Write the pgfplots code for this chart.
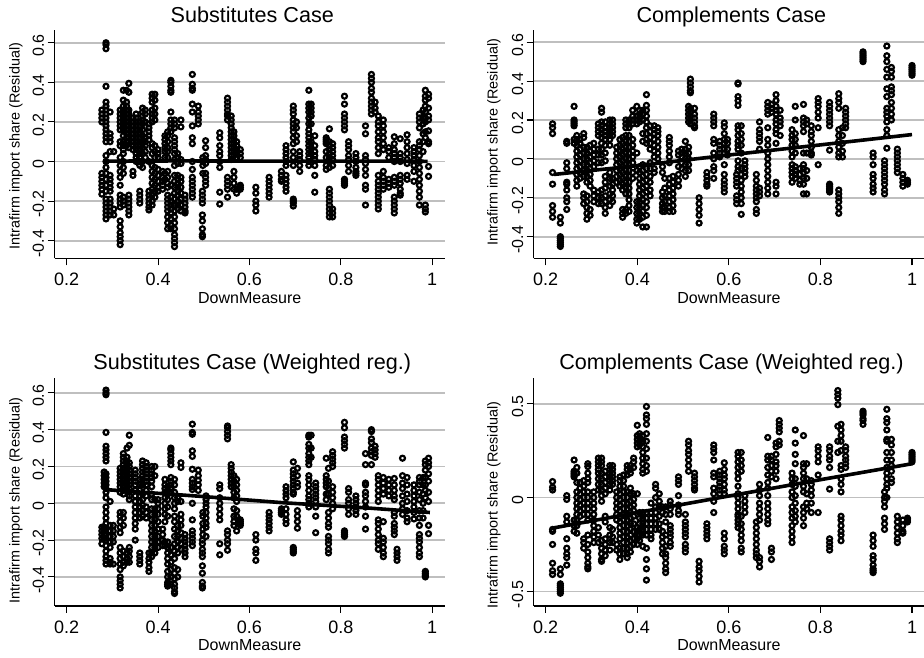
\documentclass[border=0pt]{standalone}
\usepackage{fontspec}
\setmainfont{Liberation Sans}
\usepackage{pgfplots}
\pgfplotsset{compat=1.18}
\definecolor{gridgray}{gray}{0.75}
\pgfplotsset{pan/.style={
  scale only axis, width=390.5pt, height=228.4pt,
  axis x line*=bottom, axis y line*=left,
  axis line style={line width=1.2pt,black,-},
  tick style={line width=1.1pt,black},
  major tick length=7pt, tick align=outside,
  xtick={0.2,0.4,0.6,0.8,1}, xticklabels={0.2,0.4,0.6,0.8,1},
  ymajorgrids, grid style={gridgray,line width=1.7pt},
  xticklabel style={font=\fontsize{18}{18}\selectfont,anchor=base,yshift=-20.5pt},
  yticklabel style={font=\fontsize{16}{16}\selectfont,rotate=90,anchor=south,xshift=-3pt},
  xlabel=DownMeasure, ylabel={Intrafirm import share (Residual)},
  xlabel style={font=\fontsize{16}{16}\selectfont,at={(axis description cs:0.5,-0.195)},anchor=base},
  every axis title shift=0pt,
  title style={font=\fontsize{21.6}{22}\selectfont,at={(axis description cs:0.5,1)},anchor=base,yshift=8pt,xshift=2.5pt},
},
dots/.style={only marks,mark=o,mark size=2.5pt,mark options={line width=2.2pt,black,fill=none}},
fit/.style={no marks,black,line width=3.6pt}}
\begin{document}
\begin{tikzpicture}
\path[use as bounding box] (0,0) rectangle (924pt,658pt);
\begin{axis}[pan,at={(54.5pt,399.5pt)},anchor=south west,xmin=0.1733,xmax=1.028,ymin=-0.49,ymax=0.664,
 ytick={-0.4,-0.2,0,0.2,0.4,0.6},yticklabels={-0.4,-0.2,0,0.2,0.4,0.6},title={Substitutes Case},
 ylabel style={font=\fontsize{14.4}{15}\selectfont,at={(axis description cs:-0.0986,0.492)},anchor=center,rotate=0}]
\addplot[dots] coordinates {
(.277,.26)(.277,.24)(.277,.22)(.277,.2)(.277,-.06)(.277,-.08)(.277,-.1)(.277,-.12)(.277,-.14)(.277,-.165)
(.286,.6)(.286,.59)(.286,.57)(.286,.38)(.286,.3)(.286,.28)(.286,.26)(.286,.24)(.286,.22)(.286,.2)(.286,.18)(.286,.16)(.286,.14)(.286,.12)(.286,.1)(.286,.03)(.286,0)(.286,-.03)(.286,-.06)(.286,-.09)(.286,-.12)(.286,-.15)(.286,-.19)(.286,-.21)(.286,-.23)(.286,-.25)(.286,-.27)(.286,-.29)
(.295,.25)(.295,.14)(.295,.12)(.295,.1)(.295,.05)(.295,-.07)(.295,-.09)(.295,-.11)(.295,-.13)(.295,-.15)(.295,-.19)(.295,-.21)(.295,-.23)(.295,-.25)(.295,-.27)(.303,.05)(.303,-.24)(.303,-.27)
(.317,.26)(.317,.24)(.317,.22)(.317,.2)(.317,.18)(.317,.16)(.317,.1)(.317,.08)(.317,.02)(.317,-.02)(.317,-.05)(.317,-.08)(.317,-.12)(.317,-.17)(.317,-.19)(.317,-.21)(.317,-.23)(.317,-.3)(.317,-.33)(.317,-.36)(.317,-.38)(.317,-.4)(.317,-.42)
(.324,.36)(.324,.31)(.324,.28)(.324,.26)(.324,.24)(.324,.22)(.324,.2)(.324,.18)(.324,.16)(.324,.13)(.324,.1)(.324,.08)(.324,.06)(.324,.04)(.324,0)(.324,-.03)(.324,-.06)(.324,-.18)(.324,-.2)(.324,-.22)
(.331,.36)(.331,.3)(.331,.28)(.331,.26)(.331,.24)(.331,.22)(.331,.2)(.331,.18)(.331,.16)(.331,.14)(.331,.12)(.331,.1)(.331,.08)
(.336,.395)(.336,.35)(.336,.26)(.336,.24)(.336,.22)(.336,.2)(.336,.18)(.336,.16)(.336,.14)(.336,.12)(.336,.1)(.336,.07)(.336,-.17)(.336,-.19)(.336,-.21)(.336,-.23)(.336,-.25)(.336,-.27)
(.345,.22)(.345,.2)(.345,.18)(.345,.16)(.345,.14)(.345,.12)(.345,.1)(.345,.08)(.345,.06)(.345,-.05)(.345,-.07)
(.352,.24)(.352,.22)(.352,.2)(.352,.18)(.352,.16)(.352,.14)(.352,.12)(.352,.1)(.352,.08)(.352,.06)(.352,.04)(.352,.02)(.352,0)
(.36,.2)(.36,.18)(.36,.16)(.36,.14)(.36,.12)(.36,.1)(.36,.08)(.36,.06)(.36,.04)(.36,.02)(.36,0)(.36,-.02)(.36,-.15)(.36,-.17)(.36,-.19)(.36,-.21)
(.366,.27)(.366,.25)(.366,.23)(.366,.21)(.366,.19)(.366,.16)(.366,.13)(.366,.1)(.366,.07)(.366,.04)(.366,0)(.366,-.03)
(.372,.26)(.372,.24)(.372,.2)(.372,.12)(.372,.1)(.372,.08)(.372,.05)(.372,.02)
(.38,.19)(.38,.17)(.38,.15)(.38,.13)(.38,.11)(.38,0)(.38,-.15)(.38,-.17)(.38,-.19)(.38,-.21)(.38,-.23)(.38,-.245)
(.387,.34)(.387,.32)(.387,.3)(.387,.26)(.387,.24)(.387,.22)(.387,.2)(.387,.09)(.387,.07)(.387,.04)(.387,-.02)(.387,-.05)(.387,-.08)(.387,-.11)(.387,-.14)(.387,-.17)(.387,-.2)(.387,-.22)
(.393,.34)(.393,.31)(.393,.27)(.393,.24)(.393,.21)(.393,.08)(.393,.05)(.393,.02)(.393,-.03)(.393,-.06)(.393,-.09)(.393,-.12)(.393,-.15)(.393,-.18)
(.4,.06)(.4,.04)(.4,.02)(.4,-.04)(.4,-.07)(.4,-.1)(.4,-.13)(.4,-.15)(.41,-.05)(.41,-.08)(.41,-.1)(.41,-.12)(.41,-.14)
(.415,.13)(.415,.11)(.415,.09)(.415,.07)(.415,.05)(.415,.02)(.415,-.06)(.415,-.09)
(.421,.15)(.421,.13)(.421,.1)(.421,.07)(.421,.05)(.421,.02)(.421,-.05)(.421,-.08)(.421,-.11)(.421,-.13)(.421,-.17)(.421,-.19)(.421,-.21)(.421,-.23)(.421,-.25)(.421,-.28)(.421,-.31)(.421,-.34)
(.428,.41)(.428,.4)(.428,.38)(.428,.36)(.428,.35)(.428,.25)(.428,.21)(.428,.19)(.428,.17)(.428,.15)(.428,-.12)(.428,-.18)(.428,-.2)(.428,-.22)(.428,-.24)(.428,-.26)(.428,-.29)(.428,-.32)(.428,-.34)
(.436,.21)(.436,.19)(.436,.17)(.436,.12)(.436,.1)(.436,.08)(.436,.06)(.436,.04)(.436,.01)(.436,-.02)(.436,-.07)(.436,-.1)(.436,-.13)(.436,-.16)(.436,-.19)(.436,-.22)(.436,-.25)(.436,-.28)(.436,-.31)(.436,-.34)(.436,-.37)(.436,-.39)(.436,-.41)(.436,-.43)
(.443,.04)(.443,.02)(.443,-.01)(.443,-.07)(.443,-.09)(.443,-.11)(.443,-.13)(.443,-.15)(.443,-.17)(.443,-.2)(.443,-.22)(.443,-.24)
(.45,.21)(.45,.175)(.45,.01)(.45,-.01)(.45,-.08)(.45,-.1)(.45,-.13)(.45,-.16)(.45,-.19)(.45,-.22)(.45,-.25)
(.459,-.17)(.459,-.19)(.459,-.21)(.459,-.23)(.459,-.25)(.459,-.26)
(.475,.44)(.475,.39)(.475,.37)(.475,.36)(.475,.29)(.475,.25)(.475,.18)(.475,.12)(.475,.09)(.475,0)(.475,-.04)(.475,-.08)(.475,-.1)(.475,-.12)(.475,-.14)(.475,-.16)(.475,-.18)
(.488,.28)(.488,.25)(.488,.23)(.488,.21)(.488,.19)
(.497,-.15)(.497,-.17)(.497,-.19)(.497,-.21)(.497,-.27)(.497,-.3)(.497,-.34)(.497,-.37)(.497,-.38)
(.498,.02)(.498,0)(.498,-.02)(.498,-.06)(.504,.105)(.504,.07)(.504,.03)(.504,.01)(.504,-.01)(.504,-.06)(.504,-.08)(.504,-.1)(.504,-.12)
(.535,.145)(.535,.12)(.535,.08)(.535,.05)(.535,.03)(.535,0)(.535,-.03)(.535,-.155)(.535,-.215)
(.552,.32)(.552,.3)(.552,.28)(.552,.26)(.552,.24)(.552,.23)(.552,.21)(.552,-.08)(.552,-.1)(.552,-.12)(.552,-.14)(.552,-.18)
(.56,.23)(.56,.21)(.56,.19)(.56,.17)(.56,.15)(.56,.13)(.56,.11)(.56,.09)(.56,.07)(.56,.05)(.56,.03)(.56,.01)
(.566,.15)(.566,.13)(.566,.11)(.566,.09)(.566,.07)(.566,.05)(.566,.03)(.566,-.05)(.566,-.08)(.566,-.11)(.566,-.14)
(.572,.1)(.572,.08)(.572,.06)(.572,.04)(.572,.02)(.572,-.14)(.572,-.16)(.58,.06)(.58,.04)(.58,.02)(.58,-.12)(.58,-.13)(.58,-.14)
(.614,-.13)(.614,-.16)(.614,-.2)(.614,-.22)(.614,-.25)(.643,-.08)(.643,-.1)(.643,-.12)(.643,-.14)(.643,-.16)(.643,-.18)
(.67,-.05)(.67,-.07)(.67,-.09)(.67,-.1)(.68,.08)(.68,.06)(.68,.04)(.68,.02)(.68,0)(.68,-.02)(.68,-.07)(.68,-.09)(.68,-.11)(.68,-.13)(.68,-.15)
(.696,.28)(.696,.26)(.696,.24)(.696,.21)(.696,.19)(.696,.17)(.696,.15)(.696,.12)(.696,.09)(.696,.05)(.696,.02)(.696,-.02)(.696,-.19)(.696,-.2)(.696,-.21)(.696,-.225)
(.703,.2)(.703,.17)(.703,.13)(.703,.1)(.71,.05)(.71,.03)(.71,.01)(.71,-.02)(.71,-.05)
(.73,.36)(.73,.29)(.73,.27)(.73,.25)(.73,.22)(.73,.19)(.73,.16)(.73,.14)(.73,.12)(.73,.1)(.73,.08)(.73,.06)(.73,.04)(.73,.02)(.73,0)(.73,-.02)
(.735,.29)(.735,.27)(.735,.25)(.735,.23)(.735,.19)(.735,.1)(.735,.07)(.735,.04)
(.743,.13)(.743,.08)(.743,.05)(.743,.03)(.743,.01)(.743,-.02)(.743,-.07)(.743,-.155)
(.768,.12)(.768,.11)(.768,.1)(.768,.09)(.768,.05)(.768,.02)(.768,-.02)(.768,-.04)
(.775,.165)(.775,.1)(.775,.08)(.775,.06)(.775,.04)(.775,.02)(.775,0)(.775,-.03)(.775,-.14)(.775,-.16)(.775,-.18)(.775,-.2)(.775,-.22)(.775,-.24)(.775,-.26)(.775,-.28)
(.782,.09)(.782,.07)(.782,.05)(.782,.03)(.782,.01)(.782,-.02)(.782,-.24)(.782,-.26)(.782,-.28)
(.808,.33)(.808,.29)(.808,.24)(.808,.22)(.808,.2)(.808,.18)(.808,.16)(.808,-.09)(.808,-.1)(.808,-.11)(.808,-.12)
(.817,.1)(.817,.08)(.817,.06)(.817,.03)(.817,.01)(.817,-.02)(.817,-.05)(.833,.04)(.833,.02)(.833,0)(.833,-.03)(.833,-.05)(.833,-.06)(.833,-.07)
(.854,.18)(.854,.14)(.854,.03)(.854,.01)(.854,-.01)(.854,-.04)(.854,-.07)(.854,-.12)(.854,-.14)(.854,-.22)
(.867,.44)(.867,.42)(.867,.4)(.867,.37)(.867,.35)(.867,.32)(.867,.3)(.867,.28)(.867,.26)(.867,.24)(.875,.3)(.875,.27)(.875,.25)
(.882,.23)(.882,.2)(.882,.18)(.882,.15)(.882,.12)(.882,.1)(.882,.07)(.882,.04)(.882,-.07)(.882,-.1)(.882,-.12)(.882,-.14)(.882,-.16)(.882,-.18)(.882,-.2)(.882,-.22)(.882,-.24)
(.893,.21)(.893,.18)(.893,.15)(.893,.12)(.893,.09)(.893,.06)(.893,-.05)(.893,-.08)(.893,-.1)(.893,-.12)(.893,-.14)
(.905,.07)(.905,.05)(.905,.02)(.905,-.09)(.905,-.11)(.905,-.13)
(.917,.125)(.917,.09)(.917,.06)(.917,.04)(.917,.02)(.917,0)(.917,-.08)(.917,-.1)(.917,-.12)(.917,-.18)(.917,-.2)(.917,-.22)(.917,-.24)(.917,-.26)
(.93,.115)(.93,.04)(.93,.02)(.93,0)(.93,-.07)(.93,-.09)(.93,-.11)(.93,-.14)(.93,-.16)(.93,-.17)
(.945,.135)(.945,.1)(.945,.07)(.945,.04)(.945,.01)(.945,-.01)(.945,-.07)(.945,-.09)(.96,.07)(.96,.05)(.96,.03)(.96,.01)(.96,-.02)(.96,-.05)(.96,-.1)
(.972,.24)(.972,.22)(.972,.2)(.972,.17)(.972,.1)(.972,.08)(.972,.06)(.972,.03)(.972,0)(.972,-.03)(.972,-.06)(.972,-.09)(.972,-.12)(.972,-.15)(.972,-.18)(.972,-.22)
(.98,.26)(.98,.22)(.98,.19)(.98,.14)(.98,.1)(.98,.05)(.985,.36)(.985,.33)(.985,.31)(.985,.28)(.985,.25)(.985,.22)(.985,.2)(.985,.15)(.985,.12)(.985,-.22)(.985,-.24)(.985,-.255)
(.992,.34)(.992,.32)(.992,.27)(.992,.23)(.992,.21)(.992,.155)(.992,.1)(.992,.09)(.992,-.025)(.992,-.075)
};
\addplot[fit] coordinates {(.28,.002)(.45,.003)(.65,.002)(.85,.002)(.99,.001)};
\end{axis}
\begin{axis}[pan,at={(533.7pt,399.5pt)},anchor=south west,xmin=0.1738,xmax=1.0266,ymin=-0.512,ymax=0.662,
 ytick={-0.4,-0.2,0,0.2,0.4,0.6},yticklabels={-0.4,-0.2,0,0.2,0.4,0.6},title={Complements Case},
 ylabel style={font=\fontsize{14.4}{15}\selectfont,at={(axis description cs:-0.1017,0.51)},anchor=center,rotate=0}]
\addplot[dots] coordinates {
(.215,.18)(.215,.16)(.215,.13)(.215,-.07)(.215,-.13)(.215,-.24)(.215,-.27)(.215,-.3)
(.232,-.3)(.232,-.33)(.232,-.4)(.232,-.41)(.232,-.42)(.232,-.43)(.232,-.44)(.232,-.45)
(.246,.08)(.246,.09)(.246,-.02)(.246,-.05)(.246,-.12)(.246,-.13)(.246,-.16)(.246,-.2)(.246,-.22)(.246,-.26)
(.262,.27)(.262,.2)(.262,.19)(.262,.18)(.262,.17)(.262,.1)(.262,.08)
(.268,.12)(.268,.1)(.268,.07)(.268,.04)(.268,.01)(.268,-.02)(.268,-.05)(.268,-.08)(.268,-.11)(.268,-.14)
(.275,.1)(.275,.08)(.275,.05)(.275,.02)(.275,-.01)(.275,-.04)(.275,-.07)(.275,-.1)
(.283,.13)(.283,.11)(.283,.06)(.283,.03)(.283,0)(.283,-.03)(.283,-.06)(.283,-.09)(.283,-.18)(.283,-.2)(.283,-.23)
(.29,.06)(.29,.03)(.29,0)(.29,-.03)(.29,-.06)(.29,-.09)(.29,-.12)(.29,-.19)(.29,-.22)(.29,-.25)(.29,-.28)(.29,-.31)
(.297,.07)(.297,.04)(.297,.01)(.297,-.02)(.297,-.05)(.297,-.08)(.297,-.11)(.297,-.14)(.297,-.26)(.297,-.29)
(.305,.08)(.305,.05)(.305,.02)(.305,-.01)(.305,-.04)(.305,-.16)(.305,-.19)(.305,-.22)
(.315,.18)(.315,.16)(.315,.14)(.315,.12)(.315,.05)(.315,.02)(.315,-.02)(.315,-.17)(.315,-.2)(.315,-.23)
(.322,.26)(.322,.24)(.322,.19)(.322,.17)(.322,.15)(.322,.13)(.322,.11)(.322,.08)(.322,.05)(.322,.02)(.322,-.02)(.322,-.16)(.322,-.2)(.322,-.23)
(.33,.19)(.33,.16)(.33,.14)(.33,.12)(.33,.1)(.33,.07)(.33,.03)(.33,-.01)(.33,-.09)(.33,-.12)(.33,-.15)(.33,-.19)(.33,-.22)(.33,-.25)(.33,-.28)
(.34,.2)(.34,.18)(.34,.16)(.34,.14)(.34,.12)(.34,.1)(.34,.07)(.34,-.07)(.34,-.1)(.34,-.14)(.34,-.18)(.34,-.21)(.34,-.24)
(.346,.2)(.346,.18)(.346,.16)(.346,.14)(.346,.12)(.346,-.1)(.346,-.13)(.346,-.16)(.346,-.19)(.346,-.22)
(.355,.06)(.355,.03)(.355,0)(.355,-.03)(.355,-.06)(.355,-.09)(.355,-.12)
(.362,.1)(.362,.07)(.362,.04)(.362,.01)(.362,-.02)(.362,-.05)(.362,-.08)(.362,-.11)(.362,-.14)
(.368,.11)(.368,.08)(.368,.05)(.368,.02)(.368,-.01)(.368,-.04)(.368,-.07)(.368,-.1)(.368,-.13)(.368,-.16)(.368,-.26)(.368,-.28)(.368,-.3)
(.375,.2)(.375,.18)(.375,.16)(.375,.12)(.375,.09)(.375,.06)(.375,.03)(.375,0)(.375,-.03)(.375,-.06)(.375,-.09)(.375,-.12)(.375,-.15)(.375,-.18)(.375,-.26)(.375,-.28)
(.382,.2)(.382,.18)(.382,.16)(.382,.12)(.382,.09)(.382,.06)(.382,.03)(.382,0)(.382,-.03)(.382,-.06)(.382,-.09)(.382,-.12)(.382,-.15)(.382,-.18)(.382,-.21)(.382,-.24)(.382,-.27)
(.39,.25)(.39,.22)(.39,.2)(.39,.18)(.39,.1)(.39,.07)(.39,.04)(.39,.01)(.39,-.02)(.39,-.07)(.39,-.1)
(.399,.27)(.399,.22)(.399,.2)(.399,.18)(.399,.03)(.399,-.06)(.399,-.22)(.399,-.25)(.399,-.28)(.399,-.31)(.399,-.33)
(.405,.25)(.405,.23)(.405,.21)(.405,.19)(.405,-.04)(.405,-.07)(.405,-.1)(.405,-.13)(.405,-.16)(.405,-.19)(.405,-.22)(.405,-.25)(.405,-.28)(.405,-.31)
(.412,.25)(.412,.23)(.412,.2)(.412,.13)(.412,.09)(.412,-.03)(.412,-.06)(.412,-.09)(.412,-.12)(.412,-.15)(.412,-.18)(.412,-.21)(.412,-.24)(.412,-.27)(.412,-.3)(.412,-.35)
(.42,.33)(.42,.275)(.42,.25)(.42,.22)(.42,.19)(.42,.16)(.42,.13)(.42,.1)(.42,.08)(.42,-.05)(.42,-.08)(.42,-.11)(.42,-.14)(.42,-.17)(.42,-.22)(.42,-.25)(.42,-.29)(.42,-.35)
(.428,.17)(.428,.14)(.428,.11)(.428,.08)(.428,.05)(.428,-.02)(.428,-.05)(.428,-.09)(.428,-.12)(.428,-.16)(.428,-.19)
(.437,.17)(.437,.15)(.437,.13)(.437,.1)(.437,.07)(.437,.04)(.437,.01)(.437,-.05)(.437,-.07)
(.445,.16)(.445,.14)(.445,.12)(.445,.09)(.445,.06)(.445,.03)(.445,0)
(.455,-.04)(.455,-.07)(.455,-.17)(.455,-.2)(.455,-.23)(.455,-.25)(.455,-.27)(.46,-.1)(.46,-.15)(.46,-.19)(.46,-.22)(.46,-.25)(.46,-.27)
(.47,.11)(.47,.09)(.47,.07)(.47,.04)(.47,.01)(.47,-.02)(.47,-.1)(.47,-.13)(.47,-.16)(.47,-.19)(.47,-.22)(.47,-.25)(.47,-.27)
(.478,-.09)(.478,-.12)(.478,-.15)(.478,-.18)(.478,-.21)(.478,-.24)(.478,-.27)
(.49,.04)(.49,.02)(.49,-.04)(.49,-.08)(.49,-.11)(.49,-.14)(.497,.05)(.497,.03)(.497,.01)(.497,-.02)(.497,-.05)
(.505,.09)(.505,.05)(.505,.03)(.505,0)(.505,-.03)(.505,-.06)(.505,-.09)
(.512,.27)(.512,.25)(.512,.23)(.512,.21)(.512,.19)(.512,.06)(.512,.03)(.512,0)(.512,-.03)(.512,-.06)
(.516,.41)(.516,.39)(.516,.37)(.516,.35)(.516,.34)(.516,.26)(.516,.24)(.516,.22)(.516,.2)(.516,.18)
(.525,.26)(.525,.23)(.525,.21)(.525,.19)(.525,.17)(.525,.16)
(.535,-.2)(.535,-.23)(.535,-.26)(.535,-.29)(.535,-.33)(.552,-.07)(.552,-.09)(.552,-.11)(.552,-.13)(.552,-.14)
(.567,.23)(.567,.21)(.567,.19)(.567,.17)(.567,.1)(.567,.08)(.567,.03)(.567,0)(.567,-.04)(.567,-.06)(.567,-.1)
(.58,.09)(.58,.07)(.58,.05)(.58,.03)(.58,.01)
(.59,.185)(.59,.165)(.59,.13)(.59,.1)(.59,.08)(.59,.05)(.59,.03)(.59,-.03)(.59,-.08)(.59,-.11)(.59,-.13)(.59,-.15)(.59,-.17)
(.597,.1)(.597,.08)(.597,.05)(.597,.02)
(.617,-.08)(.617,-.1)(.617,-.12)(.617,-.14)(.617,-.19)(.617,-.21)(.617,-.23)
(.62,.39)(.62,.385)(.62,.32)(.62,.3)(.62,.275)(.62,.17)(.62,.15)(.62,.12)(.62,.09)(.62,.07)(.62,.05)(.62,-.01)(.62,-.04)(.62,-.06)
(.627,.17)(.627,.13)(.627,.1)(.627,.07)(.627,.03)(.627,-.05)(.627,-.08)(.627,-.11)(.627,-.14)(.627,-.17)(.627,-.2)(.627,-.23)(.627,-.285)
(.635,-.01)(.635,-.03)(.635,-.05)(.635,-.07)(.635,-.09)
(.66,-.08)(.66,-.11)(.66,-.14)(.66,-.16)(.66,-.18)(.66,-.2)(.66,-.22)(.66,-.26)(.66,-.28)
(.667,.19)(.667,.15)(.667,.13)(.667,.11)(.667,.09)(.667,.05)(.667,-.15)(.667,-.17)(.667,-.19)
(.685,.29)(.685,.27)(.685,.25)(.685,.23)(.685,.16)(.685,.1)(.685,.07)(.685,.03)(.685,0)(.685,-.03)(.685,-.06)(.685,-.09)(.685,-.12)(.685,-.15)(.685,-.18)
(.693,.28)(.693,.26)(.693,.24)
(.703,.33)(.703,.3)(.703,.27)(.703,.25)(.703,.23)(.703,.2)(.703,.18)(.703,.15)(.703,.13)(.703,.08)(.703,-.12)(.703,-.14)(.703,-.18)
(.712,.25)(.712,.21)(.712,.19)(.712,.17)(.712,.12)
(.738,.15)(.738,.12)(.738,.1)(.738,.07)(.738,.04)(.738,.01)(.738,-.03)(.738,-.05)(.738,-.07)(.738,-.09)(.738,-.12)
(.745,.27)(.745,.2)(.745,.13)(.745,.1)(.745,.07)(.745,.03)(.745,-.04)(.745,-.06)(.745,-.08)(.745,-.1)
(.755,-.05)(.755,-.08)(.755,-.11)(.755,-.13)
(.763,.28)(.763,.21)(.763,.19)(.763,.17)(.763,.14)(.763,.03)(.763,-.03)(.763,-.05)(.763,-.07)(.763,-.1)(.763,-.13)(.763,-.18)
(.77,.2)(.77,.18)(.77,.03)(.77,-.06)(.77,-.1)(.77,-.18)
(.78,.17)(.78,.14)(.78,.12)(.78,.09)(.78,.06)(.78,.03)(.78,.02)
(.795,.31)(.795,.29)(.795,.27)(.795,.24)(.795,.21)(.795,.16)(.795,-.03)
(.82,.29)(.82,.27)(.82,.25)(.82,.23)(.82,.21)(.82,.19)(.82,.17)(.82,.045)(.82,-.13)(.82,-.14)(.82,-.15)(.82,-.16)(.82,-.17)
(.84,.335)(.84,.31)(.84,.29)(.84,.26)(.84,.15)(.84,.12)(.84,.09)(.84,.06)(.84,.03)(.84,.01)(.84,-.16)(.84,-.18)(.84,-.2)(.84,-.22)(.84,-.25)(.84,-.28)
(.848,.16)(.848,.12)(.848,.08)(.848,.04)(.848,.01)(.855,.26)(.855,.24)(.855,.22)(.855,.2)(.855,.18)(.855,.16)
(.893,.55)(.893,.54)(.893,.53)(.893,.52)(.893,.51)(.893,.5)
(.915,.03)(.915,.01)(.915,-.03)(.915,-.08)(.915,-.1)(.915,-.13)(.915,-.15)(.915,-.17)
(.94,-.01)(.94,-.03)(.94,-.05)(.94,-.07)(.94,-.09)(.94,-.11)(.94,-.13)(.94,-.16)(.94,-.18)
(.945,.58)(.945,.53)(.945,.5)(.945,.46)(.945,.42)(.945,.36)(.945,.32)(.945,.26)(.945,.24)(.945,.22)(.945,.19)(.945,.15)(.945,.12)(.945,.055)
(.955,.47)(.955,.45)(.955,.42)(.955,.37)(.955,.35)(.955,.33)(.955,.29)(.955,.26)(.955,.23)(.955,.2)
(.968,.05)(.968,.03)(.968,.01)(.968,-.01)(.968,-.03)(.968,-.05)(.968,-.07)
(.98,-.08)(.98,-.1)(.98,-.12)(.98,-.14)(.99,-.11)(.99,-.12)(.99,-.13)
(1,.48)(1,.47)(1,.46)(1,.45)(1,.44)(1,.43)
};
\addplot[fit] coordinates {(.218,-.08)(.4,-.035)(.6,.02)(.8,.072)(1,.125)};
\end{axis}
\begin{axis}[pan,at={(54.5pt,52pt)},anchor=south west,xmin=0.1733,xmax=1.028,ymin=-0.558,ymax=0.683,
 ytick={-0.4,-0.2,0,0.2,0.4,0.6},yticklabels={-0.4,-0.2,0,0.2,0.4,0.6},title={Substitutes Case (Weighted reg.)},
 ylabel style={font=\fontsize{14.4}{15}\selectfont,at={(axis description cs:-0.0986,0.462)},anchor=center,rotate=0}]
\addplot[dots] coordinates {
(.277,-.13)(.277,-.15)(.277,-.17)(.277,-.19)(.277,-.22)(.282,.17)(.282,.15)(.282,.13)(.282,.11)(.282,.09)(.282,-.13)(.282,-.15)(.282,-.17)(.282,-.19)
(.286,.615)(.286,.6)(.286,.59)(.286,.385)(.286,.31)(.286,.29)(.286,.27)(.286,.25)(.286,.23)(.286,.16)(.286,.14)(.286,.12)(.286,.1)(.286,.08)(.286,.06)(.286,.03)(.286,-.02)(.286,-.05)(.286,-.08)(.286,-.11)(.286,-.14)(.286,-.17)(.286,-.2)(.286,-.23)(.286,-.26)(.286,-.29)(.286,-.31)(.286,-.33)
(.295,.01)(.295,-.12)(.295,-.15)(.295,-.18)(.295,-.21)(.295,-.24)(.295,-.3)(.295,-.32)(.295,-.33)(.302,-.12)(.302,-.15)(.302,-.18)(.302,-.21)(.302,-.33)
(.317,.19)(.317,.17)(.317,.15)(.317,.13)(.317,.11)(.317,.09)(.317,.06)(.317,-.05)(.317,-.07)(.317,-.1)(.317,-.13)(.317,-.16)(.317,-.24)(.317,-.27)(.317,-.3)(.317,-.33)(.317,-.36)(.317,-.4)(.317,-.42)(.317,-.44)(.317,-.46)
(.324,.27)(.324,.25)(.324,.23)(.324,.21)(.324,.19)(.324,.17)(.324,.15)(.324,.13)(.324,.11)(.324,.09)(.324,.07)(.324,.05)(.324,-.05)(.324,-.08)(.324,-.12)(.324,-.26)(.324,-.29)(.324,-.32)(.324,-.34)
(.332,.3)(.332,.25)(.332,.23)(.332,.21)(.332,.19)(.332,.17)(.332,.15)(.332,.13)(.332,.11)(.332,.09)(.332,.07)(.332,-.27)(.332,-.3)(.332,-.32)
(.337,.37)(.337,.315)(.337,.22)(.337,.2)(.337,.18)(.337,.16)(.337,.14)(.337,.12)(.337,.1)(.337,.08)(.337,.06)(.337,.04)(.337,.02)(.337,-.24)(.337,-.26)(.337,-.29)(.337,-.32)
(.35,.18)(.35,.16)(.35,.14)(.35,.12)(.35,.1)(.35,.07)(.35,.04)(.35,.01)(.35,-.02)(.35,-.05)(.35,-.08)(.35,-.11)(.35,-.14)(.35,-.2)
(.36,.13)(.36,.1)(.36,.07)(.36,.04)(.36,.01)(.36,-.02)(.36,-.05)(.36,-.08)(.36,-.27)(.36,-.29)(.36,-.31)(.36,-.33)
(.366,.23)(.366,.21)(.366,.19)(.366,.17)(.366,.15)(.366,.13)(.366,.1)(.366,.05)(.366,.02)(.366,-.01)(.366,-.04)(.366,-.07)
(.374,.22)(.374,.2)(.374,.18)(.374,.16)(.374,.14)(.374,.12)(.374,.1)(.374,.07)(.374,.04)(.374,-.02)(.374,-.05)(.374,-.08)(.38,-.27)(.38,-.3)(.38,-.32)(.38,-.35)(.38,-.37)
(.386,.2)(.386,.18)(.386,.16)(.386,.14)(.386,.12)(.386,.09)(.386,.05)(.386,.02)(.386,-.03)(.386,-.06)(.386,-.09)(.386,-.12)(.386,-.15)(.386,-.18)(.386,-.21)(.386,-.24)(.386,-.27)(.386,-.29)
(.393,.2)(.393,.15)(.393,.02)(.393,-.03)(.393,-.06)(.393,-.09)(.393,-.12)(.393,-.15)(.393,-.18)(.393,-.21)(.393,-.24)(.393,-.27)
(.4,.02)(.4,0)(.4,-.03)(.4,-.06)(.4,-.1)(.4,-.14)(.4,-.18)(.4,-.21)(.4,-.24)(.41,-.14)(.41,-.17)(.41,-.2)(.41,-.23)
(.415,.13)(.415,.1)(.415,.08)(.415,.06)(.415,.03)(.415,0)(.415,-.03)(.415,-.06)(.415,-.1)(.415,-.21)(.415,-.23)
(.421,.09)(.421,.05)(.421,.02)(.421,-.02)(.421,-.07)(.421,-.21)(.421,-.24)(.421,-.27)(.421,-.3)(.421,-.33)(.421,-.37)(.421,-.4)(.421,-.43)(.421,-.44)(.421,-.45)
(.428,.3)(.428,.29)(.428,.27)(.428,.25)(.428,.23)(.428,.21)(.428,.14)(.428,.12)(.428,.1)(.428,.08)(.428,.06)(.428,-.24)(.428,-.28)(.428,-.32)(.428,-.36)(.428,-.4)(.428,-.44)
(.436,.13)(.436,.1)(.436,.06)(.436,.03)(.436,0)(.436,-.03)(.436,-.07)(.436,-.1)(.436,-.14)(.436,-.18)(.436,-.22)(.436,-.26)(.436,-.3)(.436,-.35)(.436,-.38)(.436,-.41)(.436,-.44)(.436,-.46)(.436,-.48)(.436,-.49)
(.443,.03)(.443,.01)(.443,-.12)(.443,-.15)(.443,-.18)(.443,-.21)(.443,-.24)(.443,-.27)(.443,-.36)(.443,-.4)
(.45,.22)(.45,.195)(.45,.01)(.45,-.06)(.45,-.09)(.45,-.12)(.45,-.16)(.45,-.19)(.45,-.22)(.45,-.25)
(.459,-.17)(.459,-.19)(.459,-.21)(.459,-.23)(.459,-.25)(.459,-.27)(.459,-.29)
(.475,.43)(.475,.385)(.475,.375)(.475,.285)(.475,.255)(.475,.185)(.475,.13)(.475,.11)(.475,.09)(.475,.075)(.475,0)(.475,-.09)(.475,-.15)(.475,-.17)(.475,-.19)(.475,-.21)(.475,-.23)
(.488,.18)(.488,.15)(.488,.125)(.488,.1)(.488,.07)
(.497,-.2)(.497,-.22)(.497,-.25)(.497,-.27)(.497,-.29)(.497,-.34)(.497,-.38)(.497,-.43)(.497,-.45)(.497,-.46)
(.498,-.05)(.498,-.07)(.498,-.11)(.498,-.14)(.498,-.17)(.505,.04)(.505,.02)(.505,0)(.505,-.02)(.505,-.05)(.505,-.08)(.505,-.11)(.505,-.13)(.505,-.18)
(.535,.1)(.535,.08)(.535,.03)(.535,0)(.535,-.03)(.535,-.06)(.535,-.09)(.535,-.22)(.535,-.28)
(.552,.42)(.552,.41)(.552,.39)(.552,.37)(.552,.35)(.552,-.15)(.552,-.17)(.552,-.2)(.552,-.22)(.552,-.255)
(.56,.21)(.56,.19)(.56,.17)(.56,.15)(.56,.13)(.56,.11)(.56,.09)
(.566,.15)(.566,.12)(.566,.09)(.566,.06)(.566,.03)(.566,-.03)(.566,-.07)(.566,-.1)(.566,-.12)
(.572,.13)(.572,.1)(.572,.07)(.572,.04)(.572,.01)(.572,-.04)(.572,-.07)(.572,-.15)(.58,-.09)(.58,-.1)(.58,-.11)(.58,-.12)
(.614,-.17)(.614,-.2)(.614,-.25)(.614,-.27)(.614,-.31)(.643,-.05)(.643,-.07)(.643,-.09)(.643,-.11)(.643,-.13)(.643,-.15)
(.67,-.03)(.67,-.04)(.67,-.05)(.67,-.06)(.68,.09)(.68,.07)(.68,.05)(.68,.03)(.68,-.03)(.68,-.06)(.68,-.09)(.68,-.11)
(.696,.225)(.696,.18)(.696,.16)(.696,.14)(.696,.12)(.696,.1)(.696,.08)(.696,.06)(.696,.05)(.696,-.24)(.696,-.25)(.696,-.26)(.696,-.27)
(.705,.19)(.705,.15)(.705,.11)(.705,.09)(.705,-.04)(.705,-.07)(.705,-.1)(.705,-.135)
(.73,.37)(.73,.36)(.73,.32)(.73,.3)(.73,.27)(.73,.25)(.73,.23)(.73,.21)(.73,.15)(.73,.13)(.73,.1)(.73,.07)(.73,.04)(.73,.02)(.73,0)(.73,-.02)(.735,.37)(.735,.3)(.735,.25)
(.745,.11)(.745,.09)(.745,.07)(.745,.05)(.745,.03)(.745,.01)(.745,-.02)(.745,-.07)(.745,-.16)
(.768,.245)(.768,.15)(.768,.13)(.768,.11)(.768,.09)(.768,.05)(.768,.02)
(.773,.19)(.773,.12)(.773,.08)(.773,.05)(.773,-.05)(.773,-.08)(.773,-.11)(.773,-.13)(.773,-.18)(.773,-.2)(.773,-.22)(.773,-.25)(.773,-.27)
(.782,.28)(.782,.26)(.782,.24)(.782,.22)(.782,.2)(.782,.09)(.782,.06)(.782,.03)(.782,0)(.782,-.03)
(.808,.44)(.808,.41)(.808,.36)(.808,.34)(.808,.32)(.808,.3)(.808,-.15)(.808,-.16)(.808,-.17)(.808,-.18)
(.817,.08)(.817,.06)(.817,.02)(.817,0)(.817,-.03)(.817,-.06)(.833,.04)(.833,.02)(.833,0)(.833,-.02)(.833,-.04)(.833,-.06)
(.854,.27)(.854,.21)(.854,.11)(.854,.1)(.854,.06)(.854,.04)(.854,.01)(.854,-.02)(.854,-.07)(.854,-.14)
(.867,.4)(.867,.39)(.867,.35)(.867,.33)(.867,.3)(.867,.28)(.867,.26)(.867,.21)(.875,.31)(.875,.29)(.875,.27)(.875,.25)
(.882,.15)(.882,.13)(.882,.1)(.882,.07)(.882,.04)(.882,.01)(.882,-.09)(.882,-.11)(.882,-.14)(.882,-.17)(.882,-.2)(.882,-.22)(.882,-.25)
(.893,.14)(.893,.11)(.893,.08)(.893,.05)(.893,-.1)(.893,-.19)(.893,-.21)(.893,-.24)(.893,-.27)(.893,-.29)
(.905,.13)(.905,.1)(.905,.07)(.905,.04)(.917,.135)(.917,.1)(.917,.07)(.917,.04)(.917,.02)(.917,-.05)(.917,-.07)(.917,-.11)(.917,-.13)(.917,-.15)(.917,-.17)
(.923,-.25)(.923,-.27)(.923,-.29)(.923,-.31)(.935,.245)(.935,.15)(.935,.11)(.935,.08)(.935,.04)(.935,0)(.935,-.03)(.935,-.06)
(.945,.14)(.945,.1)(.945,.05)(.945,.01)(.945,-.04)(.945,-.08)(.945,-.1)(.96,.1)(.96,.07)(.96,.04)(.96,.01)(.96,-.02)(.96,-.05)(.96,-.085)
(.972,.14)(.972,.12)(.972,.1)(.972,.06)(.972,.02)(.972,-.04)(.972,-.08)(.972,-.12)(.972,-.17)(.972,-.19)(.972,-.21)(.972,-.24)(.972,-.27)(.972,-.29)
(.98,.14)(.98,.1)(.98,.05)(.98,0)(.98,-.04)(.98,-.08)(.985,.23)(.985,.21)(.985,.18)(.985,.14)(.985,.1)(.985,.07)(.985,.03)(.985,-.37)(.985,-.38)(.985,-.39)(.985,-.4)
(.992,.245)(.992,.22)(.992,.2)(.992,.16)(.992,.12)(.992,.06)(.992,.01)(.992,-.12)(.992,-.165)
};
\addplot[fit] coordinates {(.2875,.074)(.492,.038)(.674,.003)(.856,-.025)(.995,-.05)};
\end{axis}
\begin{axis}[pan,at={(533.7pt,52pt)},anchor=south west,xmin=0.1738,xmax=1.0266,ymin=-0.578,ymax=0.639,
 ytick={-0.5,0,0.5},yticklabels={-0.5,0,0.5},title={Complements Case (Weighted reg.)},
 ylabel style={font=\fontsize{14.4}{15}\selectfont,at={(axis description cs:-0.1017,0.442)},anchor=center,rotate=0}]
\addplot[dots] coordinates {
(.215,.085)(.215,.055)(.215,.04)(.215,-.17)(.215,-.18)(.215,-.25)(.215,-.35)(.215,-.39)(.215,-.41)
(.232,-.38)(.232,-.41)(.232,-.46)(.232,-.47)(.232,-.48)(.232,-.49)(.232,-.5)(.232,-.51)
(.246,.01)(.246,-.01)(.246,-.1)(.246,-.13)(.246,-.22)(.246,-.27)(.246,-.3)(.246,-.32)(.246,-.36)
(.262,.2)(.262,.14)(.262,.13)(.262,.12)(.262,.11)(.262,-.12)(.262,-.15)(.262,-.18)
(.268,.16)(.268,.13)(.268,.08)(.268,.03)(.268,0)(.268,-.03)(.268,-.06)(.268,-.09)(.268,-.12)(.268,-.15)(.268,-.19)
(.275,.08)(.275,.05)(.275,.02)(.275,-.01)(.275,-.04)(.275,-.07)(.275,-.1)
(.283,.09)(.283,.06)(.283,.03)(.283,0)(.283,-.03)(.283,-.06)(.283,-.09)(.283,-.22)(.283,-.24)(.283,-.27)
(.292,.18)(.292,.165)(.292,.13)(.292,.1)(.292,.08)(.292,.03)(.292,0)(.292,-.03)(.292,-.06)(.292,-.09)(.292,-.12)(.292,-.2)(.292,-.25)(.292,-.29)(.292,-.32)(.292,-.35)(.292,-.37)(.292,-.38)
(.305,.03)(.305,0)(.305,-.03)(.305,-.06)(.305,-.09)(.305,-.12)(.305,-.15)(.305,-.18)(.305,-.21)(.305,-.24)
(.315,.21)(.315,.19)(.315,.17)(.315,.15)(.315,.13)(.315,.1)(.315,.07)(.315,.04)(.315,-.16)(.315,-.2)(.315,-.24)
(.322,.21)(.322,.19)(.322,.17)(.322,.13)(.322,.1)(.322,.07)(.322,.04)(.322,.01)(.322,-.02)(.322,-.23)(.322,-.27)(.322,-.3)(.322,-.33)(.322,-.34)
(.33,.14)(.33,.11)(.33,.08)(.33,.05)(.33,.02)(.33,-.1)(.33,-.13)(.33,-.22)(.33,-.25)(.33,-.28)(.33,-.31)
(.34,.17)(.34,.15)(.34,.13)(.34,.11)(.34,.09)(.34,.07)(.34,.04)(.34,-.16)(.34,-.2)(.34,-.24)(.34,-.28)
(.346,.17)(.346,.15)(.346,.13)(.346,.11)(.346,.09)(.346,.07)(.346,-.17)(.346,-.21)(.346,-.24)
(.355,.03)(.355,0)(.355,-.03)(.355,-.06)(.355,-.09)(.355,-.12)(.355,-.25)(.355,-.28)
(.362,.11)(.362,.09)(.362,.06)(.362,.02)(.362,-.01)(.362,-.04)(.362,-.07)(.362,-.1)(.362,-.13)(.362,-.16)(.362,-.19)(.362,-.22)(.362,-.27)(.362,-.3)(.362,-.33)
(.37,.12)(.37,.09)(.37,.06)(.37,.03)(.37,0)(.37,-.03)(.37,-.06)(.37,-.09)(.37,-.12)(.37,-.15)(.37,-.18)(.37,-.21)(.37,-.24)(.37,-.27)(.37,-.3)
(.378,.17)(.378,.15)(.378,.12)(.378,.03)(.378,0)(.378,-.03)(.378,-.06)(.378,-.09)(.378,-.12)(.378,-.15)(.378,-.18)(.378,-.21)(.378,-.24)(.378,-.27)(.378,-.3)(.378,-.32)
(.385,.17)(.385,.15)(.385,.13)(.385,.05)(.385,.02)(.385,-.02)(.385,-.05)(.385,-.08)(.385,-.11)(.385,-.14)(.385,-.17)(.385,-.2)(.385,-.23)(.385,-.26)(.385,-.29)
(.392,.21)(.392,.19)(.392,.16)(.392,.02)(.392,-.01)(.392,-.04)(.392,-.07)(.392,-.1)(.392,-.14)(.392,-.18)(.392,-.22)(.392,-.25)
(.4,.385)(.4,.33)(.4,.31)(.4,.29)(.4,.27)(.4,.02)(.4,-.16)(.4,-.18)(.4,-.2)(.4,-.22)(.4,-.25)
(.405,.34)(.405,.32)(.405,.3)(.405,.28)(.405,-.08)(.405,-.11)(.405,-.14)(.405,-.17)(.405,-.2)(.405,-.23)
(.412,.33)(.412,.3)(.412,.27)(.412,.24)(.412,.21)(.412,.18)(.412,.15)(.412,.13)(.412,-.08)(.412,-.11)(.412,-.14)(.412,-.17)(.412,-.2)(.412,-.26)
(.42,.485)(.42,.44)(.42,.42)(.42,.39)(.42,.34)(.42,.3)(.42,.26)(.42,.21)(.42,.17)(.42,.14)(.42,-.08)(.42,-.11)(.42,-.14)(.42,-.17)(.42,-.2)(.42,-.27)(.42,-.33)(.42,-.38)(.42,-.44)
(.43,-.03)(.43,-.08)(.43,-.11)(.43,-.14)(.43,-.17)(.43,-.2)(.43,-.22)
(.44,.07)(.44,.05)(.44,0)(.44,-.05)(.44,-.08)(.44,-.11)(.44,-.14)(.44,-.17)
(.448,.02)(.448,-.02)(.448,-.05)(.448,-.1)(.448,-.14)(.448,-.17)
(.455,-.05)(.455,-.08)(.455,-.18)(.455,-.21)(.455,-.24)(.455,-.27)(.455,-.3)
(.462,-.05)(.462,-.09)(.462,-.13)(.462,-.2)(.462,-.26)(.462,-.3)(.462,-.32)(.462,-.35)(.462,-.38)(.462,-.4)
(.472,-.02)(.472,-.04)(.472,-.06)(.472,-.09)(.472,-.15)(.472,-.17)(.472,-.19)(.472,-.21)(.472,-.24)(.472,-.26)
(.49,.11)(.49,.09)(.49,.07)(.49,.01)(.49,-.04)(.49,-.07)(.49,-.09)
(.505,-.09)(.505,-.13)(.505,-.15)(.505,-.17)(.505,-.19)(.505,-.21)(.505,-.25)(.505,-.27)(.505,-.29)
(.512,.3)(.512,.28)(.512,.25)(.512,.23)(.512,.2)(.512,.17)(.512,.14)(.525,.13)(.525,.11)(.525,.09)(.525,.07)(.525,.05)(.525,.04)
(.535,-.34)(.535,-.37)(.535,-.39)(.535,-.42)(.535,-.45)(.552,-.14)(.552,-.16)(.552,-.18)(.552,-.2)(.552,-.22)
(.567,.28)(.567,.26)(.567,.24)(.567,.2)(.567,.13)(.567,.11)(.567,.05)(.567,.02)(.567,-.02)(.567,-.08)
(.58,.14)(.58,.12)(.58,.1)(.58,.08)(.58,.06)(.58,.04)(.58,.02)
(.59,.185)(.59,.15)(.59,.12)(.59,.1)(.59,.07)(.59,.04)(.59,.02)(.59,-.19)(.59,-.22)(.59,-.26)(.59,-.28)(.59,-.3)
(.62,.24)(.62,.22)(.62,.19)(.62,.16)(.62,.13)(.62,.1)(.62,.06)(.62,.02)(.62,0)(.62,-.03)(.62,-.06)(.62,-.09)(.62,-.1)(.62,-.12)(.62,-.14)(.62,-.16)
(.627,.24)(.627,.2)(.627,.17)(.627,.14)(.627,-.1)(.627,-.14)(.627,-.17)(.627,-.2)(.627,-.23)(.627,-.27)(.627,-.29)
(.635,.01)(.635,-.02)(.635,-.05)(.635,-.08)
(.66,-.13)(.66,-.16)(.66,-.19)(.66,-.22)(.66,-.25)(.66,-.28)(.66,-.3)(.66,-.32)
(.667,.07)(.667,.04)(.667,.01)(.667,-.03)(.667,-.06)(.667,-.09)(.667,-.12)(.667,-.32)(.667,-.34)(.667,-.37)
(.685,.32)(.685,.22)(.685,.2)(.685,.16)(.685,.12)(.685,.08)(.685,.05)(.685,.01)(.685,-.03)(.685,-.06)(.685,-.09)(.685,-.12)(.685,-.14)
(.693,.22)(.693,.2)(.693,.17)(.693,.14)(.693,.11)(.693,-.27)(.693,-.29)(.693,-.33)
(.703,.29)(.703,.27)(.703,.23)(.703,.19)(.703,.17)(.703,.14)(.703,.1)(.71,.41)(.71,.39)(.71,.37)(.71,.35)(.71,.3)(.71,.28)
(.738,.13)(.738,.1)(.738,.07)(.738,.03)(.738,0)(.738,-.05)(.738,-.08)(.738,-.11)(.738,-.15)(.738,-.18)(.738,-.21)(.738,-.24)
(.745,.36)(.745,.29)(.745,.23)(.745,.18)(.745,.1)(.745,.06)(.745,.01)(.745,-.03)(.745,-.07)(.745,-.1)(.745,-.13)
(.763,.33)(.763,.18)(.763,.16)(.763,.13)(.763,.1)(.763,.06)(.763,.03)(.763,-.05)(.763,-.08)(.763,-.11)(.763,-.15)
(.77,.18)(.77,.1)(.77,.02)(.77,-.03)(.77,-.06)(.78,.09)(.78,.07)(.78,.04)(.78,.01)(.78,-.03)(.78,-.08)
(.795,.27)(.795,.25)(.795,.22)(.795,.19)(.795,.12)(.795,-.08)
(.82,.27)(.82,.25)(.82,.22)(.82,.2)(.82,.16)(.82,.045)(.82,-.22)(.82,-.24)(.82,-.26)(.82,-.28)
(.838,.57)(.838,.55)(.838,.53)(.838,.495)(.838,.38)(.838,.3)(.838,.24)
(.845,.39)(.845,.36)(.845,.33)(.845,.3)(.845,.25)(.845,.17)(.845,.15)(.845,.1)(.845,.07)(.845,.03)(.845,-.1)(.845,-.12)(.845,-.15)(.845,-.18)(.845,-.2)(.845,-.23)
(.855,.27)(.855,.25)(.855,.22)(.855,.2)(.855,.18)(.855,.16)
(.893,.46)(.893,.45)(.893,.44)(.893,.42)(.893,.41)(.893,.39)
(.915,-.2)(.915,-.23)(.915,-.26)(.915,-.31)(.915,-.33)(.915,-.36)(.915,-.38)(.915,-.39)(.915,-.4)
(.94,.03)(.94,0)(.94,-.02)(.94,-.05)(.94,-.11)(.94,-.14)(.94,-.17)
(.945,.47)(.945,.42)(.945,.4)(.945,.36)(.945,.31)(.945,.3)(.945,.24)(.945,.2)(.945,.16)(.945,.13)(.945,.1)(.945,.07)(.945,.05)(.945,0)
(.955,.31)(.955,.28)(.955,.24)(.955,.2)(.955,.17)(.955,.14)(.955,.1)(.955,.08)
(.968,-.1)(.968,-.13)(.968,-.16)(.968,-.19)(.968,-.22)(.968,-.24)(.98,-.12)(.98,-.15)(.98,-.18)(.98,-.19)(.99,-.11)(.99,-.12)(.99,-.13)
(1,.24)(1,.23)(1,.22)(1,.21)(1,.2)(1,.19)
};
\addplot[fit] coordinates {(.215,-.163)(.4,-.08)(.6,.008)(.8,.095)(1,.18)};
\end{axis}
\end{tikzpicture}
\end{document}
